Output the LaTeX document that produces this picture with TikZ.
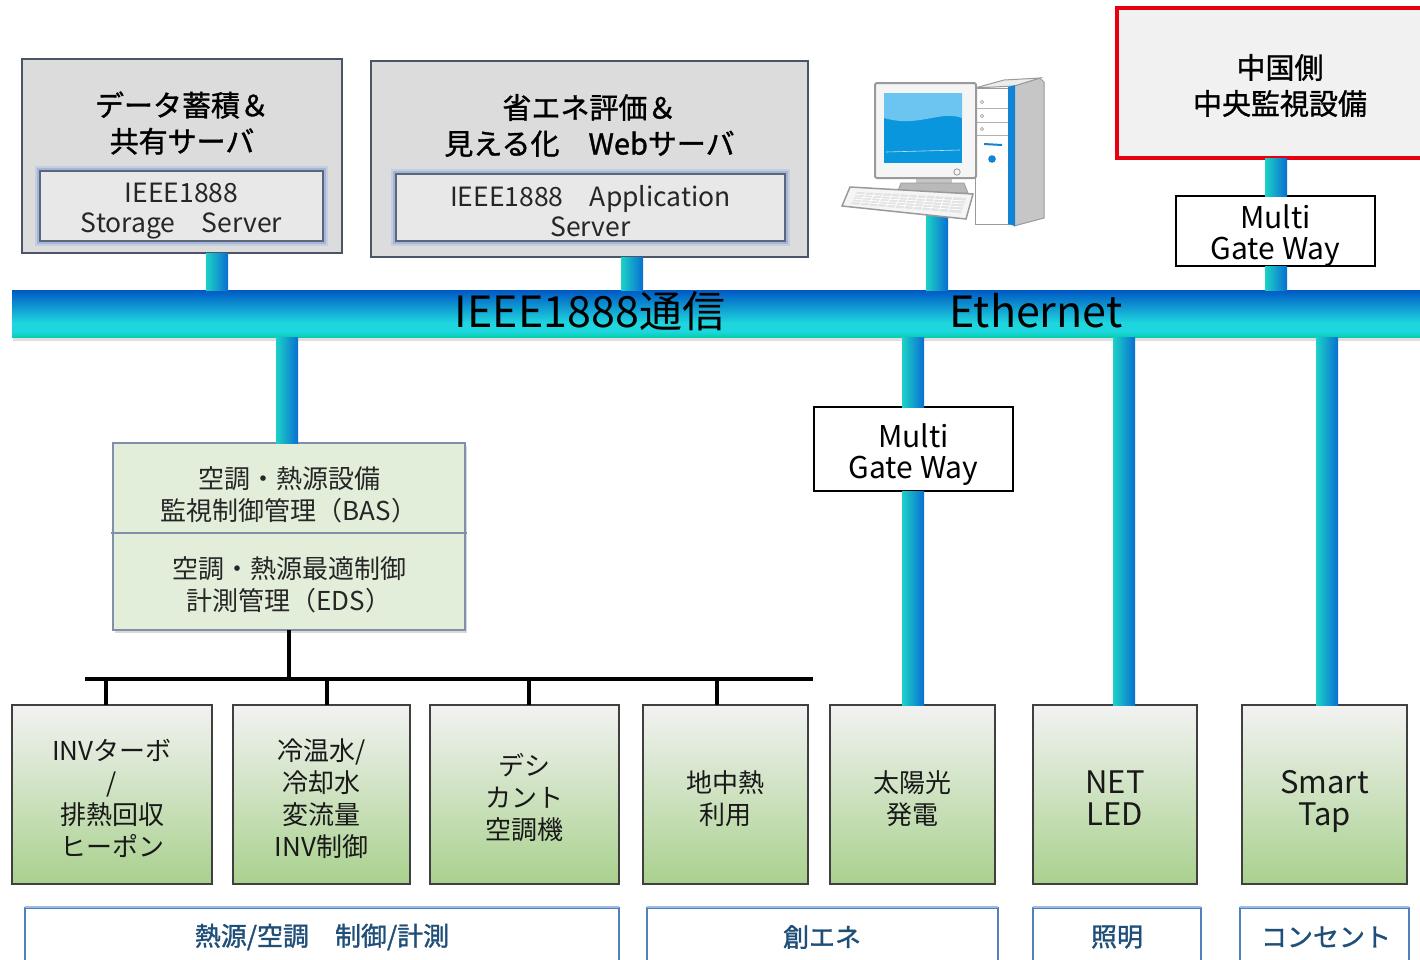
\documentclass[tikz,border=0pt]{standalone}
\usepackage{fontspec}
\setmainfont{Noto Sans CJK JP}
\newfontfamily\titlefont{Noto Sans CJK JP}[FakeBold=1.2]
\usetikzlibrary{shadows,calc}

\definecolor{boxgray}{HTML}{DCDCDC}
\definecolor{innergray}{HTML}{E8E8E8}
\definecolor{frame}{HTML}{4A5568}
\definecolor{glow}{HTML}{6E93E0}
\definecolor{redframe}{HTML}{E60012}
\definecolor{redfill}{HTML}{F1F1F1}
\definecolor{pipeL}{HTML}{1CD2C6}
\definecolor{pipeR}{HTML}{0A6ED2}
\definecolor{basfill}{HTML}{E2EEDA}
\definecolor{basframe}{HTML}{8090A8}
\definecolor{greenTop}{HTML}{F2F2F2}
\definecolor{greenBot}{HTML}{A9D18E}
\definecolor{lblblue}{HTML}{4F81BD}
\definecolor{lbltop}{HTML}{9DBBE3}
\definecolor{lbltext}{HTML}{1F4E79}
\definecolor{barTop}{HTML}{0058C4}
\definecolor{barMid}{HTML}{1ED6DE}
\definecolor{barBot}{HTML}{05CFAE}
\definecolor{scrDark}{HTML}{0A96DC}
\definecolor{scrLight}{HTML}{6CC4F0}
\definecolor{pcgray}{HTML}{9A9A9A}
\definecolor{pcblue}{HTML}{1284D6}

% Ethernet bar: teal at the bottom, cyan band, deep blue on top
\pgfdeclareverticalshading{ethbar}{100bp}{color(0bp)=(barBot); color(25bp)=(barBot);
  color(31bp)=(barMid); color(40bp)=(barMid); color(75bp)=(barTop); color(100bp)=(barTop)}

\tikzset{
  box/.style={rectangle, inner sep=0pt, outer sep=0pt},
  srvbox/.style={box, draw=frame, line width=1.3pt, fill=boxgray},
  glowbox/.style={box, draw=frame!90, line width=1.5pt, fill=innergray,
    preaction={draw=glow, line width=10pt, opacity=0.2},
    preaction={draw=glow, line width=6pt, opacity=0.4}},
  innertext/.style={align=center, text=black!85, font=\fontsize{26.5}{30}\selectfont},
  titletext/.style={align=center, font=\titlefont\fontsize{29}{36}\selectfont},
  gwbox/.style={box, draw=black, line width=2.2pt, fill=white},
  gwtext/.style={align=center, font=\fontsize{30}{31}\selectfont},
  unitbox/.style={box, draw=black!75, line width=1.3pt, top color=greenTop,
    bottom color=greenBot},
  unittext/.style={align=center, text=black!90, font=\fontsize{26}{32}\selectfont},
  latintext/.style={unittext, font=\fontsize{31}{32}\selectfont},
  bastext/.style={align=center, font=\fontsize{26}{32}\selectfont, text=black!85},
  pipe/.style={left color=pipeL, right color=pipeR},
  tree/.style={line width=4pt, black},
  catbox/.style={box, draw=lblblue, line width=1.2pt, fill=white},
  cattext/.style={text=lbltext, font=\titlefont\fontsize{26}{30}\selectfont},
  bartext/.style={font=\fontsize{43}{46}\selectfont},
}

% one shaded pipe segment in column #1, from #2 down to #3
\newcommand\pipeseg[3]{%
  \path (#1 |- #2) coordinate (pipetop) (#1 |- #3) coordinate (pipebot);
  \shade[pipe] ([xshift=-11pt]pipetop) rectangle ([xshift=11pt]pipebot);}

\begin{document}
\begin{tikzpicture}[x=1pt,y=-1pt]
\useasboundingbox (0,0) rectangle (1420,959);

% ---- servers ----
\node[srvbox, minimum width=320pt, minimum height=194pt] (tl) at (182,156) {};
\node[titletext] (tlT) at (182,123) {データ蓄積＆\\共有サーバ};
\node[glowbox, minimum width=283pt, minimum height=70pt] (tlI) at (181.5,206) {};
\node[innertext] (tlIT) at (181.5,211) {IEEE1888\\Storage　Server};

\node[srvbox, minimum width=437pt, minimum height=196pt] (mid) at (589.5,159) {};
\node[titletext] (midT) at (589.5,125.5) {省エネ評価＆\\見える化　Webサーバ};
\node[glowbox, minimum width=389pt, minimum height=67pt] (midI) at (590.5,207.5) {};
\node[innertext] (midIT) at (590.5,211) {IEEE1888　Application\\Server};

\node[box, draw=redframe, line width=3.5pt, fill=redfill,
  minimum width=308pt, minimum height=150pt] (red) at (1271,83) {};
\node[titletext] (redT) at (1280,85.5) {中国側\\中央監視設備};

\node[gwbox, minimum width=199pt, minimum height=70pt] (mg1) at (1275.5,231) {};
\node[gwtext] (mg1T) at (1275.5,236) {Multi\\Gate Way};

% ---- backbone ----
\node[box, shade, shading=ethbar, minimum width=1413pt, minimum height=47pt,
  drop shadow={opacity=0.25, shadow xshift=1pt, shadow yshift=-4pt}] (bar) at (718.5,313.5) {};
\node[bartext] (ethA) at (590,311) {IEEE1888通信};
\node[bartext] (ethB) at (1036,311) {Ethernet};

\node[gwbox, minimum width=199pt, minimum height=84pt] (mg2) at (913.5,449) {};
\node[gwtext] (mg2T) at (913.5,455) {Multi\\Gate Way};

% ---- BAS / EDS ----
\node[box, draw=basframe, line width=1.3pt, fill=basfill,
  minimum width=352pt, minimum height=187pt,
  drop shadow={opacity=0.3, shadow xshift=2pt, shadow yshift=-3pt}] (bas) at (289,536.5) {};
\coordinate (basdiv) at (0,533);
\draw[basframe, line width=1.3pt] ([xshift=-2pt]bas.west |- basdiv) -- ([xshift=2pt]bas.east |- basdiv);
\node[bastext] (basT) at (289,495) {空調・熱源設備\\監視制御管理（BAS）};
\node[bastext] (edsT) at (289,585) {空調・熱源最適制御\\計測管理（EDS）};

% ---- equipment ----
\node[unitbox, minimum width=200pt, minimum height=179pt] (u1) at (112,794.5) {};
\node[unitbox, minimum width=177pt, minimum height=179pt] (u2) at (321.5,794.5) {};
\node[unitbox, minimum width=189pt, minimum height=179pt] (u3) at (524.5,794.5) {};
\node[unitbox, minimum width=165pt, minimum height=179pt] (u4) at (725.5,794.5) {};
\node[unitbox, minimum width=165pt, minimum height=179pt] (u5) at (912.5,794.5) {};
\node[unitbox, minimum width=164pt, minimum height=179pt] (u6) at (1115,794.5) {};
\node[unitbox, minimum width=165pt, minimum height=179pt] (u7) at (1324.5,794.5) {};
\node[unittext] (u1T) at (112,798) {INVターボ\\/\\排熱回収\\ヒーポン};
\node[unittext] (u2T) at (321.5,799) {冷温水/\\冷却水\\変流量\\INV制御};
\node[unittext] (u3T) at (524.5,798) {デシ\\カント\\空調機};
\node[unittext] (u4T) at (725.5,798.5) {地中熱\\利用};
\node[unittext] (u5T) at (912.5,798.5) {太陽光\\発電};
\node[latintext] (u6T) at (1115,798.5) {NET\\LED};
\node[latintext] (u7T) at (1324.5,801) {Smart\\Tap};

% ---- categories ----
\node[catbox, minimum width=594pt, minimum height=67pt] (c1) at (322,941.5) {};
\node[catbox, minimum width=351pt, minimum height=67pt] (c2) at (822.5,941.5) {};
\node[catbox, minimum width=168pt, minimum height=67pt] (c3) at (1117,941.5) {};
\node[catbox, minimum width=169pt, minimum height=67pt] (c4) at (1324.5,941.5) {};
\foreach \c in {c1,c2,c3,c4}
  \draw[lbltop, line width=2pt] ([yshift=1.5pt]\c.north west) -- ([yshift=1.5pt]\c.north east);
\node[cattext] (c1T) at (322,937) {熱源/空調　制御/計測};
\node[cattext] (c2T) at (822,937) {創エネ};
\node[cattext] (c3T) at (1117,937) {照明};
\node[cattext] (c4T) at (1326,937) {コンセント};

% ---- pipes ----
\coordinate (colA) at (217,0);
\coordinate (colB) at (632,0);
\coordinate (colC) at (937,0);
\coordinate (colD) at (1276,0);
\coordinate (colE) at (287,0);
\coordinate (colF) at (913,0);
\coordinate (colG) at (1124,0);
\coordinate (colH) at (1327,0);
\coordinate (pc) at (937,205);
\pipeseg{colA}{tl.south}{bar.north}
\pipeseg{colB}{mid.south}{bar.north}
\pipeseg{colC}{pc}{bar.north}
\pipeseg{colD}{red.south}{mg1.north}
\pipeseg{colD}{mg1.south}{bar.north}
\pipeseg{colE}{bar.south}{bas.north}
\pipeseg{colF}{bar.south}{mg2.north}
\pipeseg{colF}{mg2.south}{u5.north}
\pipeseg{colG}{bar.south}{u6.north}
\pipeseg{colH}{bar.south}{u7.north}

% ---- wiring tree under BAS ----
\coordinate (tj) at (289,679);
\coordinate (treeL) at (85,679);
\coordinate (treeR) at (813,679);
\coordinate (d1) at (106,679);
\coordinate (d2) at (327,679);
\coordinate (d3) at (529,679);
\coordinate (d4) at (717,679);
\draw[tree] (bas.south) -- (tj);
\draw[tree] (treeL) -- (treeR);
\draw[tree] (d1) -- (d1 |- u1.north);
\draw[tree] (d2) -- (d2 |- u2.north);
\draw[tree] (d3) -- (d3 |- u3.north);
\draw[tree] (d4) -- (d4 |- u4.north);

% ---- workstation ----
% tower
\fill[gray!45, draw=pcgray, line width=1pt] (1014,86) -- (1040,78) -- (1044,82) -- (1044,218) -- (1014,226) -- cycle;
\fill[gray!15, draw=pcgray, line width=1pt] (975,88) -- (1004,80) -- (1040,78) -- (1014,86) -- cycle;
\fill[white, draw=pcgray, line width=1pt] (975,88) rectangle (1009,224);
\fill[pcblue] (1008,87) -- (1015,85) -- (1015,226) -- (1008,224) -- cycle;
\foreach \yy in {108,122,135} \draw[gray!60, line width=0.8pt] (975,\yy) -- (1008,\yy);
\foreach \yy in {102,116,129} \draw[gray!70, line width=0.6pt] (982,\yy) circle (1.6);
\draw[pcblue, line width=2pt] (984,144) -- (1002,145);
\fill[pcblue] (992,159) circle (3.8);
% stand
\fill[gray!45] (916,177) rectangle (952,186);
\fill[gray!55, draw=pcgray, line width=0.8pt] (901,183) -- (964,183) -- (968,193) -- (897,193) -- cycle;
% monitor
\draw[fill=gray!8, draw=pcgray, line width=2pt, rounded corners=2pt] (875,83) rectangle (976,178);
\fill[scrDark] (884,93) rectangle (962,163);
\fill[scrLight] (884,93) -- (962,93) -- (962,118) .. controls (940,110) and (918,128) .. (884,118) -- cycle;
\draw[white!70!scrDark, line width=0.6pt] (886,152) -- (960,150);
\draw[pcgray, line width=0.8pt] (957,172) circle (3.2);
% keyboard
\fill[gray!8, draw=pcgray, line width=1.5pt] (850,187) -- (973,194) -- (966,219) -- (842,206) -- cycle;
\fill[gray!22] (857,192) -- (966,198) -- (961,213) -- (851,204) -- cycle;
\foreach \t in {0.2,0.4,0.6,0.8}
  \draw[white, line width=0.7pt] ($(857,192)!\t!(851,204)$) -- ($(966,198)!\t!(961,213)$);
\foreach \s in {0.08,0.16,...,0.95}
  \draw[white, line width=0.7pt] ($(857,192)!\s!(966,198)$) -- ($(851,204)!\s!(961,213)$);
\end{tikzpicture}
\end{document}
